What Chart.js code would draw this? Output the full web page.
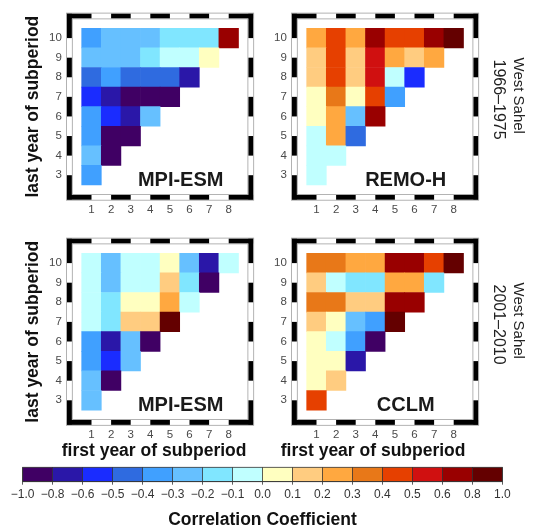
<!DOCTYPE html>
<html>
<head>
<meta charset="utf-8">
<script src="https://cdn.jsdelivr.net/npm/chart.js@4.4.1/dist/chart.umd.min.js"></script>
<style>
  html, body { margin: 0; padding: 0; background: #ffffff; }
  body { width: 536px; height: 529px; position: relative; overflow: hidden; }
  canvas { position: absolute; }
</style>
</head>
<body>
<canvas id="p1"></canvas>
<canvas id="p2"></canvas>
<canvas id="p3"></canvas>
<canvas id="p4"></canvas>
<canvas id="cbar"></canvas>
<script>
// ---------------- data ----------------
const firstYears = [1, 2, 3, 4, 5, 6, 7, 8];
const lastYears = [10, 9, 8, 7, 6, 5, 4, 3];   // row order, top to bottom

// correlation per (last year row, first year column)
const mpiEsm1966 = [
  [-0.35, -0.25, -0.25, -0.25, -0.15, -0.15, -0.15, 0.7],
  [-0.25, -0.25, -0.25, -0.15, -0.05, -0.05, 0.05],
  [-0.45, -0.35, -0.45, -0.45, -0.45, -0.7],
  [-0.55, -0.7, -0.9, -0.9, -0.9],
  [-0.35, -0.55, -0.7, -0.25],
  [-0.35, -0.9, -0.9],
  [-0.25, -0.9],
  [-0.35]
];
const remoH1966 = [
  [0.25, 0.45, 0.25, 0.7, 0.45, 0.45, 0.7, 0.9],
  [0.15, 0.45, 0.15, 0.55, 0.25, 0.15, 0.25],
  [0.15, 0.45, 0.15, 0.55, -0.05, -0.55],
  [0.05, 0.35, 0.05, 0.45, -0.35],
  [0.05, 0.25, -0.25, 0.7],
  [-0.05, 0.25, -0.45],
  [-0.05, -0.05],
  [-0.05]
];
const mpiEsm2001 = [
  [-0.05, -0.25, -0.05, -0.05, 0.05, -0.25, -0.7, -0.05],
  [-0.05, -0.25, -0.05, -0.05, 0.15, -0.15, -0.9],
  [-0.05, -0.15, 0.05, 0.05, 0.25, -0.05],
  [-0.05, -0.15, 0.15, 0.15, 0.9],
  [-0.35, -0.7, -0.25, -0.9],
  [-0.35, -0.55, -0.25],
  [-0.25, -0.9],
  [-0.25]
];
const cclm2001 = [
  [0.35, 0.35, 0.25, 0.25, 0.7, 0.7, 0.45, 0.9],
  [0.15, -0.05, -0.15, -0.15, 0.25, 0.25, -0.15],
  [0.35, 0.35, 0.15, 0.15, 0.7, 0.7],
  [0.15, 0.05, -0.25, -0.35, 0.9],
  [0.05, -0.05, -0.35, -0.9],
  [0.05, 0.05, -0.7],
  [0.05, 0.15],
  [0.45]
];

// colour scale
const boundaries = [-1.0, -0.8, -0.6, -0.5, -0.4, -0.3, -0.2, -0.1, 0.0, 0.1, 0.2, 0.3, 0.4, 0.5, 0.6, 0.8, 1.0];
const tickLabels = ['\u22121.0', '\u22120.8', '\u22120.6', '\u22120.5', '\u22120.4', '\u22120.3', '\u22120.2', '\u22120.1',
                    '0.0', '0.1', '0.2', '0.3', '0.4', '0.5', '0.6', '0.8', '1.0'];
const palette = ['#400064', '#2a17a8', '#1a2cff', '#2f6be0', '#40a0ff', '#66c0ff', '#80e6ff', '#c0ffff',
                 '#ffffc0', '#ffcc80', '#ffa840', '#e87818', '#e64000', '#d01010', '#990000', '#640000'];

// ---------------- helpers ----------------
const FONT = "'Liberation Sans', Arial, Helvetica, sans-serif";

function colorFor(v) {
  for (let i = 0; i < palette.length; i++) {
    if (v >= boundaries[i] && v < boundaries[i + 1]) return palette[i];
  }
  return palette[palette.length - 1];
}

function cellsFrom(rows) {
  const pts = [];
  rows.forEach((row, r) => {
    const last = lastYears[r];
    row.forEach((v, c) => pts.push({ x: firstYears[c], y: [last - 0.5, last + 0.5], v: v }));
  });
  return pts;
}

function setupCanvas(id, box) {
  const cv = document.getElementById(id);
  cv.width = box.w; cv.height = box.h;
  cv.style.left = box.x + 'px'; cv.style.top = box.y + 'px';
  cv.style.width = box.w + 'px'; cv.style.height = box.h + 'px';
  return cv;
}

const panelDecor = {
  id: 'panelDecor',
  afterDraw(chart, args, o) {
    const { ctx, chartArea: a, scales: { x, y } } = chart;
    const t = 5;
    ctx.save();
    // white band
    ctx.fillStyle = '#ffffff';
    ctx.fillRect(a.left - t, a.top - t, a.width + 2 * t, t);
    ctx.fillRect(a.left - t, a.bottom, a.width + 2 * t, t);
    ctx.fillRect(a.left - t, a.top, t, a.height);
    ctx.fillRect(a.right, a.top, t, a.height);
    // black alternating segments, one per axis unit
    ctx.fillStyle = '#000000';
    for (let k = x.min; k < x.max; k += 2) {
      let x0 = x.getPixelForValue(k), x1 = x.getPixelForValue(k + 1);
      if (k === x.min) x0 = a.left - t;
      if (k + 1 >= x.max) x1 = a.right + t;
      ctx.fillRect(x0, a.top - t, x1 - x0, t);
      ctx.fillRect(x0, a.bottom, x1 - x0, t);
    }
    for (let k = y.min; k < y.max; k += 2) {
      let yb = y.getPixelForValue(k), yt = y.getPixelForValue(k + 1);
      if (k === y.min) yb = a.bottom + t;
      if (k + 1 >= y.max) yt = a.top - t;
      ctx.fillRect(a.left - t, yt, t, yb - yt);
      ctx.fillRect(a.right, yt, t, yb - yt);
    }
    // thin grey outlines
    ctx.strokeStyle = '#a0a0a0';
    ctx.lineWidth = 0.8;
    ctx.strokeRect(a.left - t - 0.4, a.top - t - 0.4, a.width + 2 * t + 0.8, a.height + 2 * t + 0.8);
    ctx.strokeRect(a.left + 0.4, a.top + 0.4, a.width - 0.8, a.height - 0.8);
    // model label
    ctx.font = 'bold 20px ' + FONT;
    ctx.fillStyle = '#1a1a1a';
    ctx.textAlign = 'center';
    ctx.textBaseline = 'middle';
    ctx.fillText(o.model, x.getPixelForValue(o.labelAt[0]), y.getPixelForValue(o.labelAt[1]));
    // x title (bottom row)
    if (o.xTitle) {
      ctx.font = 'bold 17.5px ' + FONT;
      ctx.fillStyle = '#111111';
      ctx.fillText(o.xTitle, (a.left + a.right) / 2 + o.xTitleDx, a.bottom + o.xTitleDy);
    }
    // side label (right column)
    if (o.side) {
      ctx.translate(a.right + o.side.dx, a.top + o.side.dy);
      ctx.rotate(Math.PI / 2);
      ctx.fillStyle = '#222222';
      ctx.textAlign = 'left';
      ctx.font = '15px ' + FONT;
      ctx.fillText(o.side.lines[0], 0, -10);
      ctx.font = '16px ' + FONT;
      ctx.fillText(o.side.lines[1], 2, 10);
    }
    ctx.restore();
  }
};

function panel(id, rows, box, area, cfg) {
  const cv = setupCanvas(id, box);
  const yW = cfg.yW, xH = cfg.xH;
  const pad = {
    left: area.left - box.x - yW,
    top: area.top - box.y,
    right: box.x + box.w - area.right,
    bottom: box.y + box.h - area.bottom - xH
  };
  return new Chart(cv, {
    type: 'bar',
    data: {
      datasets: [{
        data: cellsFrom(rows),
        backgroundColor: (c) => (c.raw ? colorFor(c.raw.v) : '#ffffff'),
        borderWidth: 0,
        barPercentage: 1,
        categoryPercentage: 1
      }]
    },
    options: {
      responsive: false,
      animation: false,
      events: [],
      layout: { padding: pad },
      plugins: {
        legend: { display: false },
        tooltip: { enabled: false },
        panelDecor: cfg.decor
      },
      scales: {
        x: {
          type: 'linear', min: 0, max: 9, offset: false,
          afterBuildTicks: (s) => { s.ticks = firstYears.map((v) => ({ value: v })); },
          grid: { display: false, drawTicks: false, offset: false },
          border: { display: false },
          ticks: { padding: 8, color: '#4a4a4a', maxRotation: 0, autoSkip: false, font: { family: FONT, size: 11.5 } },
          afterFit: (s) => { s.height = xH; }
        },
        y: {
          type: 'linear', min: 2, max: 11, offset: false,
          afterBuildTicks: (s) => { s.ticks = lastYears.map((v) => ({ value: v })); },
          grid: { display: false, drawTicks: false },
          border: { display: false },
          ticks: { padding: 10, color: '#4a4a4a', autoSkip: false, font: { family: FONT, size: 11.5 } },
          title: {
            display: !!cfg.yTitle, text: cfg.yTitle || '', color: '#111111',
            font: { family: FONT, size: 17.5, weight: 'bold' }, padding: { top: 0, bottom: 0 }
          },
          afterFit: (s) => { s.width = yW; }
        }
      }
    },
    plugins: [panelDecor]
  });
}

// ---------------- panels ----------------
const LEFT = { left: 71.9, right: 248.3 };
const RIGHT = { left: 296.9, right: 473.3 };
const TOP = { top: 18.5, bottom: 194.8 };
const BOT = { top: 243.5, bottom: 419.9 };
const yTitle = 'last year of subperiod';
const xTitle = 'first year of subperiod';
const labelAt = [5.55, 2.75];

panel('p1', mpiEsm1966, { x: 0, y: 0, w: 268, h: 226 }, Object.assign({}, LEFT, TOP),
  { yW: 49.4, xH: 25, yTitle: yTitle, decor: { model: 'MPI-ESM', labelAt: labelAt } });
panel('p2', remoH1966, { x: 268, y: 0, w: 268, h: 226 }, Object.assign({}, RIGHT, TOP),
  { yW: 28.5, xH: 25, decor: { model: 'REMO-H', labelAt: labelAt,
    side: { lines: ['West Sahel', '1966\u20131975'], dx: 35, dy: 39 } } });
panel('p3', mpiEsm2001, { x: 0, y: 226, w: 268, h: 238 }, Object.assign({}, LEFT, BOT),
  { yW: 49.4, xH: 25, yTitle: yTitle, decor: { model: 'MPI-ESM', labelAt: labelAt,
    xTitle: xTitle, xTitleDx: -6, xTitleDy: 31 } });
panel('p4', cclm2001, { x: 268, y: 226, w: 268, h: 238 }, Object.assign({}, RIGHT, BOT),
  { yW: 28.5, xH: 25, decor: { model: 'CCLM', labelAt: labelAt,
    xTitle: xTitle, xTitleDx: -12, xTitleDy: 31,
    side: { lines: ['West Sahel', '2001\u20132010'], dx: 35, dy: 39 } } });

// ---------------- colour bar ----------------
(function () {
  const box = { x: 0, y: 464, w: 536, h: 65 };
  const area = { left: 22.7, right: 502.3, top: 467.3, bottom: 481.7 };
  const xH = 47;
  const cv = setupCanvas('cbar', box);
  const outline = {
    id: 'outline',
    afterDraw(chart) {
      const { ctx, chartArea: a } = chart;
      ctx.save();
      ctx.strokeStyle = '#333333';
      ctx.lineWidth = 0.8;
      ctx.strokeRect(a.left, a.top, a.width, a.height);
      ctx.restore();
    }
  };
  new Chart(cv, {
    type: 'bar',
    data: {
      datasets: [{
        data: palette.map((c, i) => ({ x: i + 0.5, y: [0, 1] })),
        backgroundColor: palette,
        borderWidth: 0,
        barPercentage: 1,
        categoryPercentage: 1
      }]
    },
    options: {
      responsive: false,
      animation: false,
      events: [],
      layout: { padding: { left: area.left - box.x, right: box.x + box.w - area.right, top: area.top - box.y,
                           bottom: box.y + box.h - area.bottom - xH } },
      plugins: { legend: { display: false }, tooltip: { enabled: false } },
      scales: {
        x: {
          type: 'linear', min: 0, max: palette.length, offset: false,
          afterBuildTicks: (s) => { s.ticks = tickLabels.map((t, i) => ({ value: i })); },
          grid: { display: true, drawOnChartArea: true, drawTicks: true, tickLength: 3, color: '#333333', lineWidth: 0.8, z: 1, offset: false },
          border: { display: true, color: '#333333', width: 0.8, z: 1 },
          ticks: { callback: (v, i) => tickLabels[i], autoSkip: false, maxRotation: 0, padding: 3, color: '#333333',
                   font: { family: FONT, size: 12 } },
          title: { display: true, text: 'Correlation Coefficient', color: '#111111',
                   font: { family: FONT, size: 17.5, weight: 'bold', lineHeight: 1.0 }, padding: { top: 0, bottom: 0 } },
          afterFit: (s) => { s.height = xH; }
        },
        y: { type: 'linear', min: 0, max: 1, display: false }
      }
    },
    plugins: [outline]
  });
})();
</script>
</body>
</html>
